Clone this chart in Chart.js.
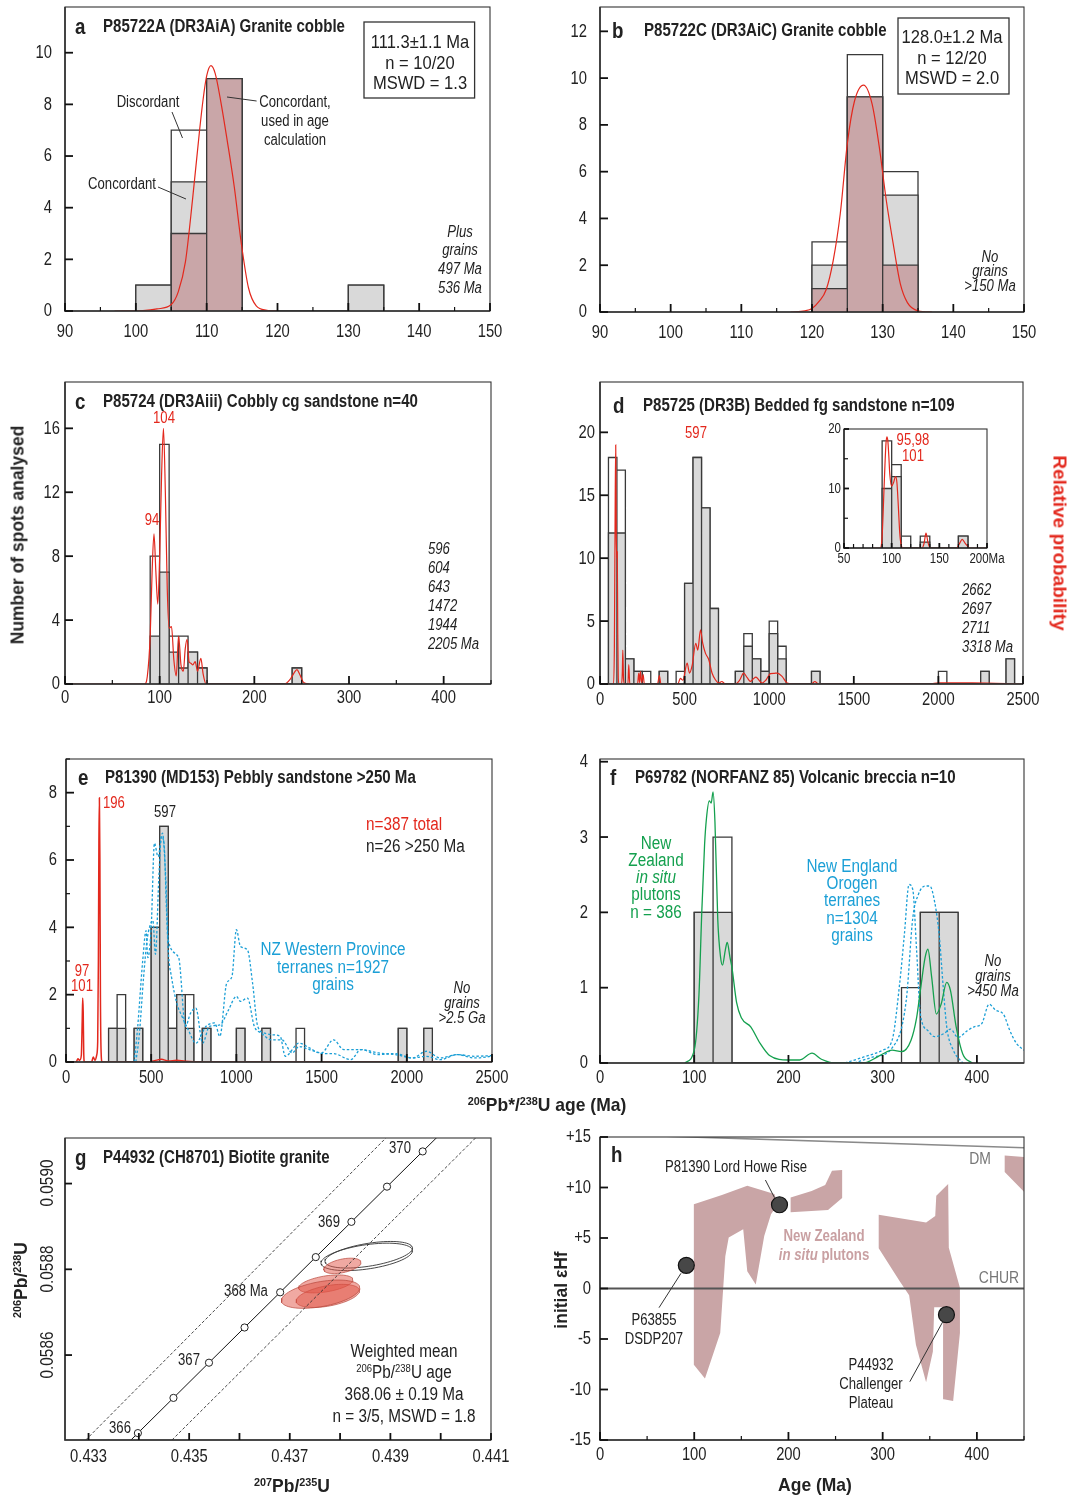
<!DOCTYPE html>
<html>
<head>
<meta charset="utf-8">
<title>Detrital zircon age spectra</title>
<script src="https://cdn.jsdelivr.net/npm/chart.js@4.4.1/dist/chart.umd.min.js"></script>
<style>
  body { margin: 0; background: #fff; }
  #page { position: relative; width: 1073px; height: 1495px; overflow: hidden; background: #fff;
          font-family: 'Liberation Sans', Arial, sans-serif; color: #222; }
  canvas { position: absolute; }
  .n { position: absolute; white-space: nowrap; line-height: 1; font-size: 16px; transform: translate(-50%, -50%); --k: 0.82; }
  .n > span { display: inline-block; transform: scaleX(var(--k)); transform-origin: 50% 50%; }
  .n.l { transform: translate(0, -50%); }
  .n.l > span { transform-origin: 0 50%; }
  .big { font-weight: bold; font-size: 22px; --k: 0.85; }
  .ttl { font-weight: bold; font-size: 17.5px; --k: 0.86; }
  .stat { font-size: 19px; --k: 0.87; }
  .mid { font-size: 18px; --k: 0.85; }
  .it { font-style: italic; }
  .ax { font-weight: bold; font-size: 19px; --k: 0.92; }
  .red { color: #e3281d; }
  .blue { color: #1b9fd6; }
  .green { color: #14a04e; }
  .pink { color: #c9a0a2; font-weight: bold; font-size: 17px; --k: 0.78; }
  .grey { color: #777; font-size: 17px; }
  .rotl { transform: translate(-50%, -50%) rotate(-90deg); }
  .rotr { transform: translate(-50%, -50%) rotate(90deg); --k: 1; }
  sup { font-size: 62%; vertical-align: 0.5em; line-height: 0; }
</style>
</head>
<body>
<div id="page">
  <canvas id="cA"></canvas>
  <canvas id="cB"></canvas>
  <canvas id="cC"></canvas>
  <canvas id="cD"></canvas>
  <canvas id="cDi"></canvas>
  <canvas id="cE"></canvas>
  <canvas id="cF"></canvas>
  <canvas id="cG"></canvas>
  <canvas id="cH"></canvas>
</div>
<script>
const LABEL_FONT = "'Liberation Sans', Arial, sans-serif";
const INK = '#222';
const RED = '#e3281d', BLUE = '#1b9fd6', GREEN = '#14a04e';
const GREY_FILL = '#d9d9d9', PINK_FILL = '#c9a6a8', WHITE = '#ffffff', EDGE = '#3a3a3a';

// ---------- a : P85722A granite cobble ----------
const aBinLeft = [100, 105, 110, 130];
const aAll = [1, 7, 9, 1];          // all spots (discordant on top)
const aConc = [1, 5, 9, 1];         // concordant
const aUsed = [0, 3, 9, 0];         // concordant, used in age
const aPdfAge = [97, 101, 103, 105, 106, 107, 108, 109, 109.5, 110, 110.6, 111.2, 112, 112.9, 113.9, 114.9, 115.9, 117, 118.5, 120];
const aPdfProb = [0, 0.02, 0.08, 0.25, 0.75, 1.9, 4.3, 7.0, 8.2, 9.1, 9.5, 9.2, 8.1, 6.6, 4.8, 2.6, 0.9, 0.2, 0.03, 0];

// ---------- b : P85722C granite cobble ----------
const bBinLeft = [120, 125, 130];
const bAll = [3, 11, 6];
const bConc = [2, 9.2, 5];
const bUsed = [1, 9.2, 2];
const bPdfAge = [117, 119, 120, 121, 122, 123, 124, 125, 126, 127.3, 128.5, 129.5, 130.5, 131.5, 132.5, 133.5, 135, 137];
const bPdfProb = [0, 0.05, 0.15, 0.45, 0.95, 2.2, 4.2, 7.2, 9.0, 9.7, 8.9, 7.1, 4.8, 2.9, 1.2, 0.4, 0.05, 0];

// ---------- c : P85724 cobbly sandstone ----------
const cBinLeft = [90, 100, 110, 120, 130, 140, 240];
const cAll = [8, 15, 3, 3, 2, 1, 1];
const cConc = [3, 7, 2, 1, 2, 1, 1];
const cPdfAge = [0, 84, 87, 90, 92, 94, 96, 98, 100, 102, 104, 106, 108, 110, 112.5, 115, 117.5, 120, 122.5, 125, 127, 129, 131, 133, 135, 137.5, 140, 143.5, 146, 149, 232, 238, 242, 245, 248, 252, 258];
const cPdfProb = [0, 0, 0.5, 3, 7, 9.4, 7, 5, 8, 13, 16, 12, 6, 3.5, 3.6, 1.5, 0.5, 3, 1.2, 0.8, 2.2, 2.8, 1.4, 1.3, 1.2, 1.4, 0.8, 1.6, 0.6, 0, 0, 0.3, 0.7, 0.9, 0.6, 0.1, 0];

// ---------- d : P85725 bedded sandstone ----------
const dBinLeft = [50, 100, 150, 200, 250, 350, 450, 500, 550, 600, 650, 800, 850, 900, 950, 1000, 1050, 1250, 2000, 2250, 2400];
const dAll = [18, 17, 2, 1, 1, 1, 1, 8, 18, 14, 6, 1, 4, 2, 1, 5, 3, 1, 1, 1, 2];
const dConc = [12, 12, 2, 1, 0, 1, 0, 8, 18, 14, 6, 1, 3, 2, 1, 4, 2, 1, 0, 1, 2];
const dPdfAge = [0, 80, 85, 90, 93, 96, 99, 102, 105, 108, 112, 128, 132, 135, 139, 145, 165, 170, 176, 222, 229, 234, 239, 246, 255, 262, 340, 351, 360, 460, 475, 490, 515, 529, 545, 566, 578, 594, 607, 623, 643, 662, 682, 702, 720, 740, 800, 825, 849, 870, 889, 905, 922, 940, 958, 980, 1007, 1030, 1046, 1076, 1106, 1150, 1250, 1270, 1290, 1950, 2000, 2200, 2500];
const dPdfProb = [0, 0, 3, 15, 19, 12, 10, 10.5, 4, 0.5, 0, 0, 1, 2.7, 0.4, 0, 0, 1.55, 0, 0, 0.87, 0.1, 1.0, 0.1, 0.74, 0, 0, 0.67, 0, 0, 0.45, 0.3, 1.66, 0.87, 1.5, 3.24, 2.7, 4.3, 3.24, 2.45, 1.93, 0.87, 0.34, 0.08, 0.2, 0, 0, 0.3, 0.87, 0.5, 0.21, 0.4, 0.55, 0.3, 0.08, 0.3, 0.82, 0.85, 0.87, 0.61, 0.08, 0, 0, 0.2, 0, 0, 0.1, 0.1, 0];
// inset (<200 Ma)
const diBinLeft = [90, 100, 110, 130, 170];
const diAll = [18, 14, 2, 2, 2];
const diConc = [10, 12, 0, 1, 2];
const diPdfAge = [80, 88, 90, 92, 94, 95, 96, 97, 98, 100, 102, 104, 105.5, 107, 108.5, 110, 112, 132, 134, 136, 138, 140, 142, 168, 171, 174, 177, 181, 184, 200];
const diPdfProb = [0, 0, 2, 10, 17.5, 18.7, 18, 15.5, 12.5, 10.4, 11, 12, 11, 7, 2.5, 0.5, 0, 0, 0.8, 2.5, 1, 0.1, 0, 0, 0.7, 1.45, 0.8, 0.1, 0, 0];

// ---------- e : P81390 pebbly sandstone ----------
const eBinLeft = [250, 300, 400, 500, 550, 600, 650, 700, 800, 1000, 1150, 1350, 1950, 2100];
const eAll = [1, 2, 1, 4, 7, 1, 2, 2, 1, 1, 1, 1, 1, 1];
const eConc = [1, 1, 1, 4, 7, 1, 2, 1, 1, 1, 1, 0, 1, 1];
const ePdfAge = [0, 60, 70, 80, 90, 95, 98, 101, 104, 108, 150, 160, 170, 180, 186, 190, 193, 196, 199, 202, 206, 212, 480, 520, 560, 600, 650, 700, 800, 2500];
const ePdfProb = [0, 0, 0.1, 0.05, 0.2, 1.2, 1.9, 1.5, 0.3, 0, 0, 0.15, 0.05, 0.2, 0.6, 3, 6.5, 7.85, 6, 2, 0.3, 0, 0, 0.04, 0.08, 0.03, 0.05, 0.02, 0, 0];
const eWpAAge = [400, 420, 450, 470, 480, 500, 519, 540, 566, 585, 600, 661, 701, 731, 762, 802, 842, 903, 954, 1000, 1024, 1065, 1105, 1145, 1206, 1267, 1327, 1368, 1428, 1499, 1570, 1630, 1731, 1832, 1933, 2034, 2115, 2196, 2297, 2398, 2500];
const eWpAProb = [0, 1, 3, 3.9, 3.1, 4.0, 6.5, 6.1, 6.8, 5.5, 3.63, 3.1, 1.06, 1.45, 1.6, 0.56, 1.06, 1.1, 1.55, 1.95, 1.8, 1.9, 1.06, 0.86, 0.66, 0.66, 0.27, 0.46, 0.37, 0.27, 0.66, 0.37, 0.37, 0.22, 0.25, 0.12, 0.32, 0.12, 0.22, 0.17, 0.19];
const eWpBAge = [410, 430, 455, 475, 490, 510, 525, 545, 560, 575, 590, 600, 620, 650, 681, 717, 762, 822, 873, 903, 943, 974, 1000, 1024, 1065, 1095, 1125, 1166, 1206, 1257, 1287, 1368, 1428, 1499, 1570, 1671, 1731, 1832, 1933, 2034, 2115, 2196, 2297, 2398, 2500];
const eWpBProb = [0, 0.8, 2.5, 3.6, 4.0, 4.2, 3.2, 5.5, 6.7, 6.5, 4.5, 3.3, 2.5, 1.75, 1.35, 0.96, 0.56, 1.06, 1.16, 0.76, 2.34, 2.54, 3.93, 3.43, 3.33, 2.34, 1.06, 0.86, 0.81, 0.76, 0.17, 0.56, 0.42, 0.25, 0.25, 0.07, 0.37, 0.27, 0.22, 0.12, 0.17, 0.07, 0.22, 0.12, 0.17];

// ---------- f : P69782 volcanic breccia ----------
const fBinLeft = [100, 120, 320, 340, 360];
const fAll = [2, 3, 1, 2, 2];
const fConc = [2, 2, 0, 2, 2];
const fNzAge = [90, 100, 105, 108, 111, 113, 116, 118, 120, 122, 125, 128, 130, 133, 135, 138, 140, 145, 150, 160, 170, 180, 200, 212, 225, 235, 250, 280, 290, 300, 310, 320, 330, 336, 340, 345, 348, 352, 357, 362, 368, 372, 378, 385, 395];
const fNzProb = [0, 0.17, 0.9, 2.0, 2.9, 3.25, 3.48, 3.45, 3.6, 3.2, 1.9, 1.4, 1.3, 1.5, 1.6, 1.4, 1.27, 0.8, 0.6, 0.48, 0.26, 0.1, 0.04, 0.04, 0.13, 0.05, 0, 0, 0.05, 0.12, 0.17, 0.15, 0.3, 0.6, 0.96, 1.4, 1.51, 1.14, 0.65, 0.78, 1.07, 0.96, 0.48, 0.12, 0];
const fNeAAge = [260, 280, 300, 310, 318, 323, 328, 332, 336, 340, 348, 355, 365, 372, 380, 390, 397, 405, 413, 420, 428, 435, 442, 450];
const fNeAProb = [0, 0.08, 0.17, 0.3, 1.05, 1.7, 2.37, 2.3, 1.5, 0.65, 0.43, 0.35, 0.39, 0.45, 0.34, 0.43, 0.48, 0.52, 0.78, 0.7, 0.65, 0.43, 0.26, 0.17];
const fNeBAge = [270, 290, 310, 325, 332, 338, 345, 350, 355, 360, 364, 368, 375, 385];
const fNeBProb = [0, 0.08, 0.2, 0.83, 1.93, 2.24, 2.35, 2.35, 2.15, 1.7, 1.05, 0.48, 0.17, 0];

// ---------- g : P44932 concordia ----------
const gConcAge = [365.5, 366, 366.5, 367, 367.5, 368, 368.5, 369, 369.5, 370, 370.5];
const gConc75 = [0.433276, 0.433981, 0.434688, 0.435394, 0.436101, 0.436809, 0.437517, 0.438225, 0.438933, 0.439642, 0.440351];
const gConc68 = [0.0583359, 0.058418, 0.0585001, 0.0585822, 0.0586643, 0.0587464, 0.0588285, 0.0589107, 0.0589928, 0.059075, 0.059157];
const gEnvLo75 = [0.432945, 0.438908], gEnvHi75 = [0.434659, 0.440690], gEnv68 = [0.058402, 0.059106];
// spot ellipses: centre, half-widths, correlation
const gOpenX = [0.43853, 0.43857], gOpenY = [0.058829, 0.058834];
const gOpenSx = [0.00091, 0.00087], gOpenSy = [0.000032, 0.000031], gOpenRho = [0.45, 0.5];
const gUsedX = [0.437613, 0.437757, 0.437716, 0.438045];
const gUsedY = [0.058742, 0.058738, 0.058766, 0.058808];
const gUsedSx = [0.00078, 0.00063, 0.00054, 0.00037];
const gUsedSy = [0.000033, 0.000027, 0.000021, 0.000018];
const gUsedRho = [0.45, 0.45, 0.45, 0.45];

// ---------- h : initial eHf ----------
const hNz1Age = [99.6, 129.4, 156.3, 185.1, 188.7, 181.5, 174.3, 165.3, 156.3, 152.0, 136.6, 133.0, 127.6, 111.4, 99.6];
const hNz1Hf = [8.35, 9.25, 10.18, 9.35, 8.35, 7.36, 5.2, 0.4, 1.72, 5.87, 5.04, 3.2, -4.4, -8.9, -7.56];
const hNz2Age = [202.3, 224.6, 239, 246.2, 257, 257, 242, 202.3];
const hNz2Hf = [9.0, 9.65, 10.25, 11.67, 11.73, 8.95, 7.76, 7.56];
const hNz3Age = [295.8, 346.1, 355.8, 356.9, 369.5, 370.2, 382, 382, 374.8, 364.8, 364.1, 354.7, 353.3, 346.1, 335.3, 328.1, 318.1, 295.8];
const hNz3Hf = [7.29, 6.53, 7.19, 9.18, 10.34, 4.04, 0.07, -4.41, -11.14, -10.97, -1.86, -1.86, -6.23, -9.28, -5.57, -0.66, 0.73, 3.98];
const hNz4Age = [429.5, 452, 452, 429.5];
const hNz4Hf = [13.16, 13.0, 9.4, 11.54];
const hDmAge = [0, 450], hDmHf = [15.29, 13.94];
const hChurAge = [0, 450], hChurHf = [0, 0];
const hSampleAge = [91.6, 190.5, 367.7];
const hSampleHf = [2.29, 8.29, -2.59];

// ---------- helpers ----------
function pairs(xs, ys) { return xs.map((x, i) => ({x: x, y: ys[i]})); }
function histPath(left, width, h) {
  const pts = [];
  left.forEach((x0, i) => {
    if (!h[i]) return;
    pts.push({x: x0, y: 0}, {x: x0, y: h[i]}, {x: x0 + width, y: h[i]}, {x: x0 + width, y: 0});
  });
  return pts;
}
function barLayer(left, width, h, fill, order) {
  return {data: histPath(left, width, h), borderColor: EDGE, borderWidth: 1.3, backgroundColor: fill,
          fill: 'origin', pointRadius: 0, order: order, borderJoinStyle: 'miter'};
}
function curve(xs, ys, color, extra) {
  return Object.assign({data: pairs(xs, ys), borderColor: color, borderWidth: 1.2, pointRadius: 0,
                        fill: false, cubicInterpolationMode: 'monotone', order: 0}, extra || {});
}
function shape(xs, ys, color, order) {
  const pts = pairs(xs, ys);
  pts.push(pts[0]);
  return {data: pts, borderWidth: 0, borderColor: color, backgroundColor: color, fill: 'shape', pointRadius: 0, order: order};
}
function ellipse(cx, cy, sx, sy, rho) {
  const pts = [], k = Math.sqrt(1 - rho * rho);
  for (let i = 0; i <= 72; i++) {
    const t = i / 72 * 2 * Math.PI;
    pts.push({x: cx + sx * Math.cos(t), y: cy + sy * (rho * Math.cos(t) + k * Math.sin(t))});
  }
  return pts;
}
const every = (n) => (v) => Math.abs(v / n - Math.round(v / n)) < 1e-6;
const all = () => true;
const fmt = (v) => String(Math.round(v * 1000) / 1000);

// ---------- panel plumbing ----------
const M = {l: 70, t: 14, r: 32, b: 44};
const origin = {}, tickCfg = {}, decoCfg = {};

const framePlugin = {
  id: 'frame',
  afterDatasetsDraw(chart) {
    const ctx = chart.ctx, a = chart.chartArea, id = chart.canvas.id, cfg = tickCfg[id];
    ctx.save();
    ctx.strokeStyle = '#333';
    ctx.lineWidth = 1.1;
    ctx.strokeRect(a.left, a.top, a.right - a.left, a.bottom - a.top);
    ctx.lineWidth = 1.6;
    ctx.beginPath();
    ctx.moveTo(a.left, a.top); ctx.lineTo(a.left, a.bottom); ctx.lineTo(a.right, a.bottom);
    ctx.stroke();
    ctx.strokeStyle = '#111';
    ctx.fillStyle = INK;
    ['x', 'y'].forEach(k => {
      const s = chart.scales[k], c = cfg[k];
      ctx.font = (c.size || 18) + 'px ' + LABEL_FONT;
      s.ticks.forEach(t => {
        const p = s.getPixelForValue(t.value);
        const major = c.major(t.value);
        const len = major ? (c.len || 8) : 4;
        if (k === 'x' && (p < a.left - 0.5 || p > a.right + 0.5)) return;
        if (k === 'y' && (p < a.top - 0.5 || p > a.bottom + 0.5)) return;
        ctx.lineWidth = major ? 1.8 : 1.2;
        ctx.beginPath();
        if (k === 'x') { ctx.moveTo(p, a.bottom); ctx.lineTo(p, a.bottom - len); }
        else { ctx.moveTo(a.left, p); ctx.lineTo(a.left + len, p); }
        ctx.stroke();
        if (c.show === false) return;
        const txt = c.label ? c.label(t.value) : (major ? fmt(t.value) : '');
        if (!txt) return;
        ctx.save();
        if (k === 'x') { ctx.translate(p, a.bottom + c.off); ctx.textAlign = 'center'; }
        else { ctx.translate(a.left - c.off, p + 0.5); ctx.textAlign = 'right'; }
        ctx.textBaseline = 'middle';
        ctx.scale(c.k || 0.82, 1);
        ctx.fillText(txt, 0, 0);
        ctx.restore();
      });
    });
    ctx.restore();
  },
  afterDraw(chart) {
    const ctx = chart.ctx, id = chart.canvas.id, d = decoCfg[id], o = origin[id];
    ctx.save();
    ctx.strokeStyle = '#333';
    ctx.lineWidth = 1.3;
    (d.rects || []).forEach(r => ctx.strokeRect(r[0] - o[0], r[1] - o[1], r[2] - r[0], r[3] - r[1]));
    ctx.lineWidth = 1;
    (d.lines || []).forEach(l => {
      ctx.beginPath(); ctx.moveTo(l[0] - o[0], l[1] - o[1]); ctx.lineTo(l[2] - o[0], l[3] - o[1]); ctx.stroke();
    });
    ctx.restore();
  }
};

function makePanel(id, box, sx, sy, datasets, deco) {
  const cv = document.getElementById(id);
  const left = box.L - M.l, top = box.T - M.t;
  cv.width = box.R - box.L + M.l + M.r;
  cv.height = box.B - box.T + M.t + M.b;
  cv.style.left = left + 'px';
  cv.style.top = top + 'px';
  origin[id] = [left, top];
  tickCfg[id] = {x: sx, y: sy};
  decoCfg[id] = deco || {};
  const axis = (s, horiz) => ({
    type: 'linear', min: s.min, max: s.max,
    afterFit: sc => {
      if (horiz) sc.height = M.b; else sc.width = M.l;
      sc.paddingLeft = sc.paddingRight = sc.paddingTop = sc.paddingBottom = 0;
    },
    grid: {display: false, drawTicks: false},
    border: {display: false},
    ticks: {display: false, stepSize: s.step, autoSkip: false, includeBounds: false}
  });
  return new Chart(cv, {
    type: 'line',
    data: {datasets: datasets},
    options: {
      responsive: false, animation: false, events: [],
      layout: {padding: {left: 0, top: M.t, right: M.r, bottom: 0}},
      plugins: {legend: {display: false}, tooltip: {enabled: false}},
      scales: {x: axis(sx, true), y: axis(sy, false)}
    },
    plugins: [framePlugin]
  });
}

// ---------- panels ----------
makePanel('cA', {L: 65, T: 7, R: 490, B: 311},
  {min: 90, max: 150, step: 5, major: every(10), off: 21},
  {min: 0, max: 11.77, step: 2, major: all, off: 13},
  [curve(aPdfAge, aPdfProb, RED),
   barLayer(aBinLeft, 5, aUsed, PINK_FILL, 1),
   barLayer(aBinLeft, 5, aConc, GREY_FILL, 2),
   barLayer(aBinLeft, 5, aAll, WHITE, 3)],
  {rects: [[364, 22, 474.6, 98]], lines: [[172, 112, 182.5, 138], [158, 187, 186, 199], [227, 97, 256.6, 101]]});

makePanel('cB', {L: 600, T: 7, R: 1024, B: 312},
  {min: 90, max: 150, step: 5, major: every(10), off: 21},
  {min: 0, max: 13.04, step: 2, major: all, off: 13},
  [curve(bPdfAge, bPdfProb, RED),
   barLayer(bBinLeft, 5, bUsed, PINK_FILL, 1),
   barLayer(bBinLeft, 5, bConc, GREY_FILL, 2),
   barLayer(bBinLeft, 5, bAll, WHITE, 3)],
  {rects: [[898, 18, 1009, 94]]});

makePanel('cC', {L: 65, T: 382, R: 491, B: 684},
  {min: 0, max: 450, step: 50, major: every(100), off: 14},
  {min: 0, max: 18.9, step: 4, major: all, off: 5},
  [curve(cPdfAge, cPdfProb, RED),
   barLayer(cBinLeft, 10, cConc, GREY_FILL, 2),
   barLayer(cBinLeft, 10, cAll, WHITE, 3)]);

makePanel('cD', {L: 600, T: 382, R: 1023, B: 684},
  {min: 0, max: 2500, step: 500, major: all, off: 16},
  {min: 0, max: 24, step: 5, major: all, off: 5},
  [curve(dPdfAge, dPdfProb, RED),
   barLayer(dBinLeft, 50, dConc, GREY_FILL, 2),
   barLayer(dBinLeft, 50, dAll, WHITE, 3)]);

makePanel('cDi', {L: 844, T: 429, R: 987, B: 548},
  {min: 50, max: 200, step: 10, major: every(50), off: 11, size: 14, len: 5,
   label: v => (every(50)(v) ? (Math.round(v) === 200 ? '200Ma' : String(Math.round(v))) : '')},
  {min: 0, max: 20, step: 5, major: every(10), off: 3, size: 14, len: 5},
  [curve(diPdfAge, diPdfProb, RED),
   barLayer(diBinLeft, 10, diConc, GREY_FILL, 2),
   barLayer(diBinLeft, 10, diAll, WHITE, 3)]);

const dash = {borderDash: [2.5, 2], borderWidth: 1.3};
makePanel('cE', {L: 66, T: 759, R: 492, B: 1062},
  {min: 0, max: 2500, step: 500, major: all, off: 16},
  {min: 0, max: 9.0, step: 1, major: every(2), off: 9},
  [curve(ePdfAge, ePdfProb, RED, {borderWidth: 1.5}),
   curve(eWpAAge, eWpAProb, BLUE, dash),
   curve(eWpBAge, eWpBProb, BLUE, dash),
   barLayer(eBinLeft, 50, eConc, GREY_FILL, 2),
   barLayer(eBinLeft, 50, eAll, WHITE, 3)]);

makePanel('cF', {L: 600, T: 759, R: 1024, B: 1063},
  {min: 0, max: 450, step: 100, major: all, off: 15},
  {min: 0, max: 4.036, step: 1, major: all, off: 12},
  [curve(fNzAge, fNzProb, GREEN, {borderWidth: 1.3}),
   curve(fNeAAge, fNeAProb, BLUE, dash),
   curve(fNeBAge, fNeBProb, BLUE, dash),
   barLayer(fBinLeft, 20, fConc, GREY_FILL, 2),
   barLayer(fBinLeft, 20, fAll, WHITE, 3)]);

const gSets = [
  {data: pairs(gConc75, gConc68), borderColor: '#111', borderWidth: 1, pointRadius: 3.6, pointBackgroundColor: '#fff',
   pointBorderColor: '#222', pointBorderWidth: 1, fill: false, order: 0},
  {data: pairs(gEnvLo75, gEnv68), borderColor: '#333', borderWidth: 0.9, borderDash: [3, 2], pointRadius: 0, fill: false, order: 1},
  {data: pairs(gEnvHi75, gEnv68), borderColor: '#333', borderWidth: 0.9, borderDash: [3, 2], pointRadius: 0, fill: false, order: 1}
];
gOpenX.forEach((cx, i) => gSets.push({data: ellipse(cx, gOpenY[i], gOpenSx[i], gOpenSy[i], gOpenRho[i]),
  borderColor: '#333', borderWidth: 0.9, fill: false, pointRadius: 0, order: 3}));
gUsedX.forEach((cx, i) => gSets.push({data: ellipse(cx, gUsedY[i], gUsedSx[i], gUsedSy[i], gUsedRho[i]),
  borderColor: '#b8473c', borderWidth: 0.7, backgroundColor: 'rgba(226,84,70,0.5)', fill: 'shape', pointRadius: 0, order: 2}));
makePanel('cG', {L: 65, T: 1138, R: 491, B: 1440},
  {min: 0.432532, max: 0.441, step: 0.001, major: all, off: 17, len: 7,
   label: v => (Math.round(v * 1000) % 2 === 1 ? v.toFixed(3) : '')},
  {min: 0.0584019, max: 0.0591063, step: 0.0002, major: all, show: false, len: 7},
  gSets);

makePanel('cH', {L: 600, T: 1137, R: 1024, B: 1440},
  {min: 0, max: 450, step: 50, major: every(100), off: 15},
  {min: -15, max: 15, step: 5, major: all, off: 9, label: v => (v > 0 ? '+' + v : String(v))},
  [{data: pairs(hSampleAge, hSampleHf), showLine: false, pointRadius: 8, pointBackgroundColor: '#474747',
    pointBorderColor: '#111', pointBorderWidth: 1.2, order: 0},
   {data: pairs(hChurAge, hChurHf), borderColor: '#555', borderWidth: 2, pointRadius: 0, fill: false, order: 1},
   {data: pairs(hDmAge, hDmHf), borderColor: '#8a8a8a', borderWidth: 1.6, pointRadius: 0, fill: false, order: 1},
   shape(hNz1Age, hNz1Hf, '#c9a5a6', 2),
   shape(hNz2Age, hNz2Hf, '#c9a5a6', 2),
   shape(hNz3Age, hNz3Hf, '#c9a5a6', 2),
   shape(hNz4Age, hNz4Hf, '#c9a5a6', 2)],
  {lines: [[681, 1273.3, 659, 1307.7], [765.4, 1180, 774.5, 1197.7], [942.8, 1321.7, 909.8, 1381.7]]});

// ---------- text ----------
const notes = [
  // a
  [75, 27, 'a', 'big', 'l'], [103, 27, 'P85722A (DR3AiA) Granite cobble', 'ttl', 'l'],
  [419.5, 41, '111.3±1.1 Ma', 'stat'], [419.5, 62, 'n = 10/20', 'stat'], [419.5, 82, 'MSWD = 1.3', 'stat'],
  [148, 102, 'Discordant'], [122, 184, 'Concordant'],
  [294.5, 102, 'Concordant,'], [294.5, 121, 'used in age'], [294.5, 140, 'calculation'],
  [460, 232, 'Plus', 'it'], [460, 250, 'grains', 'it'], [460, 269, '497 Ma', 'it'], [460, 288, '536 Ma', 'it'],
  // b
  [612, 31, 'b', 'big', 'l'], [643.7, 31, 'P85722C (DR3AiC) Granite cobble', 'ttl', 'l'],
  [952, 36, '128.0±1.2 Ma', 'stat'], [952, 57, 'n = 12/20', 'stat'], [952, 77, 'MSWD = 2.0', 'stat'],
  [990, 257, 'No', 'it'], [990, 271, 'grains', 'it'], [990, 286, '&gt;150 Ma', 'it'],
  // c
  [75, 402, 'c', 'big', 'l'], [103, 402, 'P85724 (DR3Aiii) Cobbly cg sandstone n=40', 'ttl', 'l'],
  [163.6, 418, '104', 'red'], [151.5, 520, '94', 'red'],
  [428, 549, '596', 'it', 'l'], [428, 568, '604', 'it', 'l'], [428, 587, '643', 'it', 'l'],
  [428, 606, '1472', 'it', 'l'], [428, 625, '1944', 'it', 'l'], [428, 644, '2205 Ma', 'it', 'l'],
  [17, 535, 'Number of spots analysed', 'ax rotl'],
  // d
  [613, 406, 'd', 'big', 'l'], [643, 406, 'P85725 (DR3B) Bedded fg sandstone n=109', 'ttl', 'l'],
  [696, 433, '597', 'red'],
  [913, 440, '95,98', 'red'], [913, 456, '101', 'red'],
  [961.5, 590, '2662', 'it', 'l'], [961.5, 609, '2697', 'it', 'l'], [961.5, 628, '2711', 'it', 'l'], [961.5, 647, '3318 Ma', 'it', 'l'],
  [1060, 543, 'Relative probability', 'ax red rotr'],
  // e
  [77.5, 778, 'e', 'big', 'l'], [105, 778, 'P81390 (MD153) Pebbly sandstone &gt;250 Ma', 'ttl', 'l'],
  [103, 803, '196', 'red', 'l'], [164.6, 812, '597'], [82, 971, '97', 'red'], [82, 986, '101', 'red'],
  [365.7, 824, 'n=387 total', 'mid red', 'l'], [365.7, 846, 'n=26 &gt;250 Ma', 'mid', 'l'],
  [333.4, 949, 'NZ Western Province', 'mid blue'], [333.4, 967, 'terranes n=1927', 'mid blue'], [333.4, 984, 'grains', 'mid blue'],
  [461.5, 988, 'No', 'it'], [461.5, 1003, 'grains', 'it'], [461.5, 1018, '&gt;2.5 Ga', 'it'],
  // f
  [609.7, 778, 'f', 'big', 'l'], [634.5, 778, 'P69782 (NORFANZ 85) Volcanic breccia n=10', 'ttl', 'l'],
  [655.6, 843, 'New', 'mid green'], [655.6, 860, 'Zealand', 'mid green'], [655.6, 877, '<i>in situ</i>', 'mid green'],
  [655.6, 894, 'plutons', 'mid green'], [655.6, 912, 'n = 386', 'mid green'],
  [852, 866, 'New England', 'mid blue'], [852, 883, 'Orogen', 'mid blue'], [852, 900, 'terranes', 'mid blue'],
  [852, 918, 'n=1304', 'mid blue'], [852, 935, 'grains', 'mid blue'],
  [993, 961, 'No', 'it'], [993, 976, 'grains', 'it'], [993, 991, '&gt;450 Ma', 'it'],
  [547, 1104, '<sup>206</sup>Pb*/<sup>238</sup>U age (Ma)', 'ax'],
  // g
  [75, 1158, 'g', 'big', 'l'], [103, 1158, 'P44932 (CH8701) Biotite granite', 'ttl', 'l'],
  [399.5, 1148, '370'], [329, 1222, '369'], [245.6, 1291, '368 Ma'], [189.4, 1360, '367'], [119.9, 1428, '366'],
  [403.6, 1351, 'Weighted mean', 'mid'], [403.6, 1372, '<sup>206</sup>Pb/<sup>238</sup>U age', 'mid'],
  [403.6, 1394, '368.06 ± 0.19 Ma', 'mid'], [403.6, 1416, 'n = 3/5, MSWD = 1.8', 'mid'],
  [47, 1183, '0.0590', 'mid rotl'], [47, 1269, '0.0588', 'mid rotl'], [47, 1355, '0.0586', 'mid rotl'],
  [20, 1280, '<sup>206</sup>Pb/<sup>238</sup>U', 'ax rotl'], [292, 1485, '<sup>207</sup>Pb/<sup>235</sup>U', 'ax'],
  // h
  [611, 1155, 'h', 'big', 'l'],
  [735.5, 1167, 'P81390 Lord Howe Rise'], [654, 1320, 'P63855'], [654, 1339, 'DSDP207'],
  [871, 1365, 'P44932'], [871, 1384, 'Challenger'], [871, 1403, 'Plateau'],
  [824, 1235, 'New Zealand', 'pink'], [824, 1254, '<i>in situ</i> plutons', 'pink'],
  [980, 1158, 'DM', 'grey'], [999, 1277, 'CHUR', 'grey'],
  [560, 1290, 'initial εHf', 'ax rotl'], [815, 1484, 'Age (Ma)', 'ax']
];
const page = document.getElementById('page');
notes.forEach(([x, y, html, cls, al]) => {
  const d = document.createElement('div');
  d.className = 'n ' + (cls || '') + (al === 'l' ? ' l' : '');
  d.style.left = x + 'px';
  d.style.top = y + 'px';
  const s = document.createElement('span');
  s.innerHTML = html;
  d.appendChild(s);
  page.appendChild(d);
});
</script>
</body>
</html>
